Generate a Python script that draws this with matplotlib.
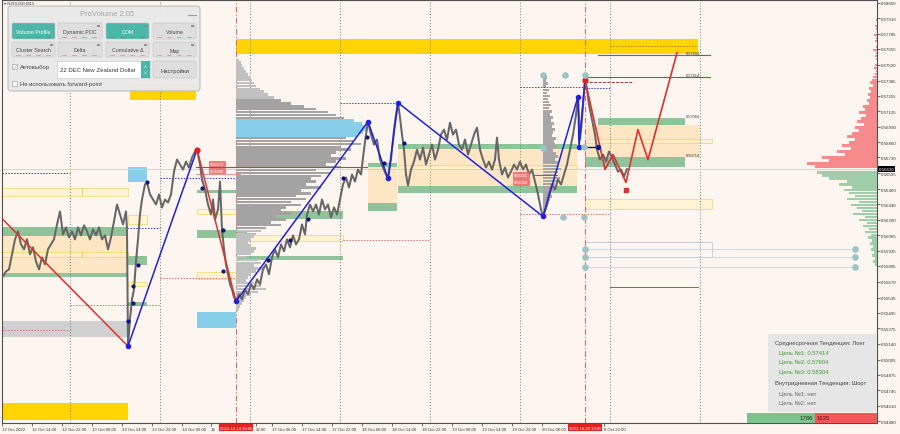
import numpy as np
import matplotlib
matplotlib.use('Agg')
import matplotlib.pyplot as plt
from matplotlib.patches import Rectangle, FancyBboxPatch

plt.rcParams['font.family'] = ['Liberation Sans', 'DejaVu Sans']

# ---------------- data ----------------
bar_x = [3, 6, 9, 12, 15, 18, 21, 24, 27, 30, 33, 36, 39, 42, 45, 48, 51, 54, 57, 60,
         63, 66, 69, 72, 75, 78, 81, 84, 87, 90, 93, 96, 99, 102, 105, 108, 111, 114, 117, 120,
         123, 126, 127, 128,
         130, 132, 134, 136, 138, 140, 142, 145, 147, 150, 153, 156, 159, 162, 165, 168, 171, 174,
         177, 180, 183, 186, 189, 192, 195, 197,
         200, 202, 205, 208, 211, 213, 215, 218, 220, 222, 224, 226, 228, 230, 232, 234, 236,
         239, 242, 245, 248, 251, 254, 257, 260, 263, 266, 269, 272, 275, 278, 281, 284, 287, 290,
         293, 296, 299, 302, 305, 307, 310, 313, 316, 319, 322, 325, 328, 331, 334, 337, 340, 343,
         346, 349, 352, 355, 358, 361, 364, 366, 368,
         371, 374, 377, 380, 383, 386, 388, 391, 394, 396, 398, 400, 402, 404, 406, 408, 411, 414,
         417, 420, 423, 426, 429, 432, 435, 438, 441, 444, 447, 450, 453, 456, 459, 462, 465, 468,
         471, 474, 477, 480, 483, 486, 489, 492, 495, 497, 499, 502, 505, 508, 511, 514, 517, 520,
         523, 526, 529, 532, 535, 538, 541, 543,
         546, 549, 552, 555, 558, 561, 564, 567, 570, 573, 576, 578, 580, 582, 585,
         587, 589, 591, 593, 595, 597, 600, 603, 606, 609, 612, 615, 618, 621, 624, 627]
close = [0.55716, 0.55758, 0.55775, 0.55903, 0.56031, 0.56099, 0.55988, 0.55946, 0.56031, 0.55903,
         0.55963, 0.55843, 0.55775, 0.55877, 0.55818, 0.55946, 0.55988, 0.56031, 0.56158, 0.56269,
         0.56073, 0.56133, 0.56048, 0.56099, 0.56031, 0.56133, 0.56065, 0.56150, 0.56099, 0.56031,
         0.56116, 0.56065, 0.56133, 0.56031, 0.56065, 0.55946, 0.56048, 0.56184, 0.56328, 0.56243,
         0.56158, 0.56269, 0.56116, 0.55120,
         0.55350, 0.55520, 0.55605, 0.55843, 0.56031, 0.56243, 0.56371, 0.56499, 0.56516, 0.56414,
         0.56371, 0.56328, 0.56414, 0.56303, 0.56371, 0.56345, 0.56414, 0.56609, 0.56711, 0.56669,
         0.56626, 0.56694, 0.56643, 0.56728, 0.56780, 0.56796,
         0.56669, 0.56541, 0.56456, 0.56328, 0.56243, 0.56371, 0.56201, 0.56286, 0.56524, 0.56116,
         0.55946, 0.55818, 0.55733, 0.55648, 0.55605, 0.55537, 0.55503,
         0.55563, 0.55520, 0.55605, 0.55563, 0.55648, 0.55605, 0.55690, 0.55648, 0.55775, 0.55818,
         0.55733, 0.55877, 0.55946, 0.55877, 0.55988, 0.55929, 0.56031, 0.55963, 0.56065, 0.55988,
         0.56031, 0.56158, 0.56073, 0.56243, 0.56328, 0.56269, 0.56328, 0.56243, 0.56371, 0.56286,
         0.56328, 0.56218, 0.56303, 0.56243, 0.56371, 0.56499, 0.56558, 0.56473, 0.56584, 0.56524,
         0.56626, 0.56584, 0.56796, 0.56924, 0.57035,
         0.56924, 0.56839, 0.56882, 0.56711, 0.56643, 0.56584, 0.56550, 0.56711, 0.56967, 0.57094,
         0.57196, 0.57069, 0.56924, 0.56796, 0.56584, 0.56490, 0.56626, 0.56694, 0.56796, 0.56711,
         0.56814, 0.56669, 0.56754, 0.56839, 0.56711, 0.56796, 0.56924, 0.56967, 0.56882, 0.57026,
         0.56924, 0.56967, 0.56839, 0.56796, 0.56882, 0.56754, 0.56839, 0.56924, 0.56984, 0.56796,
         0.56711, 0.56643, 0.56694, 0.56626, 0.56711, 0.56899, 0.56711, 0.56584, 0.56643, 0.56558,
         0.56609, 0.56669, 0.56626, 0.56694, 0.56626, 0.56669, 0.56584, 0.56626, 0.56524, 0.56414,
         0.56286, 0.56226,
         0.56303, 0.56414, 0.56499, 0.56456, 0.56541, 0.56499, 0.56584, 0.56669, 0.56796, 0.56924,
         0.57094, 0.57248, 0.56882, 0.57052, 0.57392,
         0.57307, 0.57179, 0.57094, 0.57009, 0.56924, 0.56796, 0.56711, 0.56754, 0.56694, 0.56780,
         0.56728, 0.56669, 0.56609, 0.56626, 0.56567, 0.56630]
last_price = 0.56630

# zigzag
zz_red1_x, zz_red1_y = [0, 128], [0.56226, 0.55120]
zz_blue1_x, zz_blue1_y = [128, 197], [0.55120, 0.56796]
zz_red2_x, zz_red2_y = [197, 236], [0.56796, 0.55503]
zz_blue2_x = [236, 368, 388, 398, 543, 578, 579, 585]
zz_blue2_y = [0.55503, 0.57035, 0.56550, 0.57196, 0.56226, 0.57248, 0.56822, 0.57392]
zz_navy_x, zz_navy_y = [579, 598], [0.56822, 0.56822]
fc_x = [585, 605, 613, 626, 638, 648, 677]
fc_y = [0.57392, 0.56626, 0.56754, 0.56516, 0.56967, 0.56711, 0.57622]
sub_x = [128, 133, 133, 138, 147, 202, 223, 223, 268, 290, 308, 343, 367, 384, 404, 598]
sub_y = [0.55333, 0.55486, 0.55630, 0.55809, 0.56516, 0.56465, 0.56107, 0.55758, 0.55852,
         0.56022, 0.56201, 0.56550, 0.56907, 0.56686, 0.56856, 0.56822]

# zones: (x0, x1, top, bottom)
gold_zones = [(236, 698, 0.57741, 0.57613), (130, 196, 0.57358, 0.57222), (2, 128, 0.54635, 0.54490)]
blue_zones = [(128, 147, 0.56652, 0.56516), (197, 236, 0.55409, 0.55273)]
gray_zones = [(2, 128, 0.55333, 0.55197)]
beige_zones = [(2, 128, 0.56056, 0.55741), (368, 397, 0.56652, 0.56337),
               (398, 577, 0.56805, 0.56482), (587, 700, 0.57009, 0.56737)]
green_zones = [(2, 128, 0.56133, 0.56056), (2, 128, 0.55741, 0.55707), (128, 147, 0.55886, 0.55809),
               (128, 147, 0.55494, 0.55460), (197, 236, 0.56456, 0.56422), (197, 236, 0.56107, 0.56039),
               (237, 343, 0.56269, 0.56201), (237, 343, 0.55886, 0.55852), (368, 397, 0.56686, 0.56652),
               (368, 397, 0.56337, 0.56269), (398, 577, 0.56848, 0.56805), (398, 577, 0.56482, 0.56422),
               (598, 685, 0.57069, 0.57009), (585, 685, 0.56737, 0.56652), (236, 250, 0.56456, 0.56430),
               (236, 247, 0.56107, 0.56056)]
yellow_boxes = [(2, 128, 0.56473, 0.56397), (2, 128, 0.55920, 0.55877), (128, 147, 0.56235, 0.56158),
                (128, 147, 0.55665, 0.55631), (197, 236, 0.56286, 0.56243), (197, 236, 0.55750, 0.55690),
                (237, 343, 0.56065, 0.56014), (398, 577, 0.56669, 0.56635), (585, 712, 0.56890, 0.56856),
                (585, 712, 0.56371, 0.56286)]
pink_dotted = [(2, 70, 0.55256), (70, 160, 0.55469), (160, 236, 0.55699), (343, 430, 0.56022), (520, 610, 0.56243)]
blue_dotted = [(2, 70, 0.56601), (127, 160, 0.56124), (160, 236, 0.56550), (340, 398, 0.57196),
               (520, 583, 0.57333), (585, 610, 0.57324)]
target_lines = [(598, 710, 0.57605, "0.57604"), (585, 710, 0.57418, "0.57414")]
zone_labels = [(0.57069, "0.57084"), (0.56737, "0.56714")]

# volume profile (anchored at bar 236)
vp_widths = [3, 5, 6, 8, 10, 12, 14, 16, 18, 20, 24, 28, 32, 38,
             45, 55, 68, 80, 92, 100, 108,
             118, 126, 131, 130, 127, 121,
             110, 118, 125, 105, 115, 100, 95, 110,
             100, 90, 105, 80, 95, 85, 75,
             80, 70, 85, 65, 75, 60, 70,
             55, 65, 50, 45, 55, 40, 50,
             35, 45, 30, 25, 20, 18, 15,
             12, 15, 20, 18, 14, 10, 22,
             25, 18, 28, 20, 15, 12, 10,
             18, 25, 30, 22, 15, 10, 8,
             6, 4, 3]
vp_top, vp_bottom = 0.57562, 0.55435
vp2_widths = [2, 4, 3, 5, 3, 6, 4, 7, 5, 6, 8, 6, 9, 7, 10, 8, 11, 9, 12, 10, 9, 13, 11, 12, 14, 10,
              13, 15, 12, 16, 14, 18, 15, 13, 17, 14, 12, 10, 11, 8, 9, 7, 6, 5, 4, 3, 2]
vp2_top, vp2_bottom = 0.57435, 0.56243
dom_ask = [1, 0, 2, 1, 0, 3, 1, 2, 0, 1, 4, 1, 2, 1, 0, 2, 3, 1, 2, 4,
           5, 7, 4, 8, 6, 9, 7,
           10, 8, 14, 12, 18, 11, 16, 20, 13, 22,
           18, 25, 30, 22, 28, 35, 26,
           40, 32, 55, 48, 70, 62]
dom_ask_top, dom_ask_bottom = 0.57903, 0.56652
dom_bid = [60, 55, 48, 30, 38, 25, 33, 28, 22, 30, 18, 26, 20, 15, 24, 12, 18, 10, 14, 8,
           12, 6, 9, 5, 7, 4, 6, 3, 5, 2, 4, 2]
dom_bid_top, dom_bid_bottom = 0.56601, 0.55818

yticks = [0.58050, 0.57916, 0.57785, 0.57655, 0.57520, 0.57385, 0.57255, 0.57125, 0.56990, 0.56860,
          0.56730, 0.56595, 0.56460, 0.56330, 0.56200, 0.56065, 0.55935, 0.55805, 0.55670, 0.55535,
          0.55405, 0.55275, 0.55140, 0.55005, 0.54875, 0.54745, 0.54610, 0.54480]
xtick_pos = [2, 32, 62, 92, 122, 152, 182, 211, 256, 272, 302, 332, 362, 392, 422, 452, 482, 512, 542, 604]
xtick_lab = ["12 Oct 2022", "12 Oct 14:00", "12 Oct 22:00", "13 Oct 06:00", "13 Oct 14:00", "13 Oct 22:00",
             "14 Oct 06:00", "14", "22:00", "17 Oct 06:00", "17 Oct 14:00", "17 Oct 22:00",
             "18 Oct 06:00", "18 Oct 14:00", "18 Oct 22:00", "19 Oct 06:00", "19 Oct 14:00", "19 Oct 22:00",
             "20 Oct 06:00", "0 Oct 22:00"]
grid_x = [70, 160, 250, 340, 430, 520, 610, 700]
cursor_x = [236, 585]
cursor_lab = ["2022.10.14 20:05", "2022.10.20 13:05"]
teal_x = [543, 565, 585, 563, 584, 543, 584, 585, 585, 585, 855, 855, 855]
teal_y = [0.57435, 0.57435, 0.57435, 0.56218, 0.56218, 0.56814, 0.56822, 0.55946, 0.55877,
          0.55792, 0.55946, 0.55877, 0.55792]

BG = '#fdf6f0'
fig = plt.figure(figsize=(9, 4.35), dpi=100, facecolor=BG)
ax = fig.add_axes([2 / 900, 11 / 435, 875 / 900, 423 / 435])
ax.set_facecolor(BG)
ax.set_xlim(2, 877)
ax.set_ylim(0.54465, 0.58072)


def rect(z, fc, ec='none', lw=0, zo=1, alpha=1.0):
    x0, x1, top, bot = z
    ax.add_patch(Rectangle((x0, bot), x1 - x0, top - bot, facecolor=fc, edgecolor=ec,
                           lw=lw, zorder=zo, alpha=alpha))


for z in beige_zones:
    rect(z, '#fde6c4', zo=1)
for z in gold_zones:
    rect(z, '#ffd400', zo=1.2)
for z in blue_zones:
    rect(z, '#87ceeb', zo=1.2)
for z in gray_zones:
    rect(z, '#d0d0d0', zo=1.2)
for z in green_zones:
    rect(z, '#8fc49a', zo=1.3)
for z in yellow_boxes:
    rect(z, '#fff4c0', ec='#f0d040', lw=0.7, zo=1.4, alpha=0.6)
ax.plot([82, 82], [0.56473, 0.56397], color='#f0d040', lw=0.7, zorder=1.4)
ax.plot([82, 82], [0.55920, 0.55877], color='#f0d040', lw=0.7, zorder=1.4)
ax.add_patch(Rectangle((585, 0.55877), 127, 0.56005 - 0.55877, facecolor='none',
                       edgecolor='#b8c8d8', lw=0.6, zorder=1.4))

# grid lines
for gx in grid_x:
    ax.axvline(gx, color='#7a7a7a', ls=(0, (1, 2)), lw=0.7, zorder=1.5)
for cx in cursor_x:
    ax.axvline(cx, color='#e06a6a', ls=(0, (5, 2, 1, 2)), lw=0.8, zorder=1.5)
ax.axhline(last_price, color='#cfcfcf', lw=0.6, zorder=1.5)

# volume profiles
n = len(vp_widths)
lv = np.linspace(vp_top, vp_bottom, n)
h = (vp_top - vp_bottom) / (n - 1) * 0.9
cols = ['#87ceeb' if 21 <= i <= 26 else ('#a3a3a3' if 14 <= i <= 58 else '#c0c0c0') for i in range(n)]
ax.barh(lv, vp_widths, left=236, height=h, color=cols, zorder=2)
n2 = len(vp2_widths)
lv2 = np.linspace(vp2_top, vp2_bottom, n2)
ax.barh(lv2, vp2_widths, left=543, height=(vp2_top - vp2_bottom) / (n2 - 1) * 0.9,
        color='#a6a6a6', zorder=2)
na = len(dom_ask)
lva = np.linspace(dom_ask_top, dom_ask_bottom, na)
ax.barh(lva, [-w for w in dom_ask], left=877, height=(dom_ask_top - dom_ask_bottom) / (na - 1) * 0.8,
        color='#f78a8a', zorder=2)
nb = len(dom_bid)
lvb = np.linspace(dom_bid_top, dom_bid_bottom, nb)
ax.barh(lvb, [-w for w in dom_bid], left=877, height=(dom_bid_top - dom_bid_bottom) / (nb - 1) * 0.8,
        color='#9fcfaa', zorder=2)

# horizontal lines
for x0, x1, p in pink_dotted:
    ax.plot([x0, x1], [p, p], color='#e07070', ls=(0, (1.5, 1.5)), lw=0.7, zorder=2.5)
for x0, x1, p in blue_dotted:
    ax.plot([x0, x1], [p, p], color='#3a3ad0', ls=(0, (1.5, 1.5)), lw=0.7, zorder=2.5)
ax.plot([610, 698], [0.55622, 0.55622], color='#e04040', lw=0.7, zorder=2.5)
ax.plot([196, 367], [0.56652, 0.56652], color='#c04040', lw=0.8, zorder=2.5)
ax.plot([196, 240], [0.56590, 0.56590], color='#e08080', lw=0.6, zorder=2.5)
ax.plot([533, 557], [0.56580, 0.56580], color='#d04040', lw=0.7, zorder=2.5)
ax.plot([610, 698], [0.57682, 0.57682], color='#b08000', ls=(0, (1.5, 1.5)), lw=0.7, zorder=2.5)
ax.plot([585, 632], [0.57375, 0.57375], color='#a03030', ls=(0, (3, 1.5)), lw=0.7, zorder=2.5)
for p in [0.55946, 0.55877, 0.55792]:
    ax.plot([585, 855], [p, p], color='#c8d4dc', lw=0.6, zorder=2.5)
for x0, x1, p, lab in target_lines:
    ax.plot([x0, x1], [p, p], color='#3a8a30', lw=0.8, zorder=2.5)
    ax.text(686, p, lab, fontsize=2.8, color='#333333', va='bottom', ha='left', zorder=6)
for p, lab in zone_labels:
    ax.text(686, p, lab, fontsize=2.8, color='#333333', va='bottom', ha='left', zorder=6)

# price
ax.plot(bar_x, close, color='#666666', lw=1.45, zorder=3)

# zigzags
ax.plot(zz_red1_x, zz_red1_y, color='#e03030', lw=1.1, zorder=4)
ax.plot(zz_blue1_x, zz_blue1_y, color='#2020e0', lw=1.1, zorder=4)
ax.plot(zz_red2_x, zz_red2_y, color='#e03030', lw=1.1, zorder=4)
ax.plot(zz_blue2_x, zz_blue2_y, color='#2020e0', lw=1.1, zorder=4)
ax.plot(zz_navy_x, zz_navy_y, color='#101080', lw=1.0, zorder=4)
ax.plot(fc_x, fc_y, color='#e03030', lw=1.2, zorder=4)
ax.scatter([128, 236, 368, 388, 398, 543, 578, 579, 598], [0.55120, 0.55503, 0.57035, 0.56550, 0.57196,
           0.56226, 0.57248, 0.56822, 0.56822], s=9, color='#2020e0', zorder=5)
ax.scatter(sub_x, sub_y, s=4, color='#101080', zorder=5)
ax.scatter([197, 585], [0.56796, 0.57392], s=12, color='#e02020', zorder=5)
ax.scatter([626], [0.56456], s=5, marker='s', color='#e03030', zorder=5)
ax.scatter(teal_x, teal_y, s=14, color='#9cc4c4', zorder=5)

# red price labels
for p, lab in [(0.56677, "0.56672"), (0.56618, "0.56608")]:
    ax.text(210, p, lab, fontsize=2.8, color='white', va='center', ha='left', zorder=6,
            bbox=dict(boxstyle='square,pad=0.15', fc='#f07a7a', ec='#e05050', lw=0.4))
for p, lab in [(0.56580, "0.56381"), (0.56520, "0.56332")]:
    ax.text(514, p, lab, fontsize=2.8, color='white', va='center', ha='left', zorder=6,
            bbox=dict(boxstyle='square,pad=0.15', fc='#f07a7a', ec='#e05050', lw=0.4))

# axes styling
for s in ax.spines.values():
    s.set_color('#505050')
    s.set_linewidth(0.8)
ax.yaxis.tick_right()
ax.set_yticks(yticks)
ax.set_yticklabels([f"{v:.5f}" for v in yticks])
ax.tick_params(axis='y', labelsize=3.2, length=2, pad=1, width=0.5, colors='#333333')
ax.set_xticks(xtick_pos)
ax.set_xticklabels(xtick_lab)
ax.tick_params(axis='x', labelsize=3.1, length=2, pad=1.2, width=0.5, colors='#333333')
for t in ax.get_xticklabels():
    t.set_ha('left')
for cx, lab in zip(cursor_x, cursor_lab):
    ax.text(cx, -0.006, lab, transform=ax.get_xaxis_transform(), fontsize=3.1, color='white',
            ha='center', va='top', zorder=10, clip_on=False,
            bbox=dict(boxstyle='square,pad=0.25', fc='#e8201c', ec='none'))
ax.text(1.002, last_price, f"{last_price:.5f}", transform=ax.get_yaxis_transform(), fontsize=3.2,
        color='white', ha='left', va='center', zorder=10, clip_on=False,
        bbox=dict(boxstyle='square,pad=0.2', fc='black', ec='none'))

# -------------- UI overlay --------------
ui = fig.add_axes([0, 0, 1, 1], zorder=10)
ui.set_xlim(0, 900)
ui.set_ylim(435, 0)
ui.axis('off')
ui.patch.set_alpha(0)

ui.text(4, 4, "▾ NZDUSD,M15", fontsize=3, color='#333333', va='center')
ui.add_patch(FancyBboxPatch((8, 7), 192, 85, boxstyle='round,pad=0,rounding_size=3',
                            fc='#e9e9e9', ec='#b5b5b5', lw=0.7, alpha=0.97))
ui.text(107, 14, "ProVolume 2.05", fontsize=5.5, color='#a5a5a5', ha='center', va='center')
ui.plot([188, 196], [16, 16], color='#a0a0a0', lw=0.8)
buttons = [("Volume Profile", 12, 55, 24, 40, True), ("Dynamic POC", 58, 102, 24, 40, False),
           ("DOM", 106, 149, 24, 40, True), ("Volume", 153, 196, 24, 40, False),
           ("Cluster Search", 12, 55, 43, 58, False), ("Delta", 58, 102, 43, 58, False),
           ("Cumulative Δ", 106, 149, 43, 58, False), ("Map", 153, 196, 43, 58, False)]
for lab, x0, x1, y0, y1, on in buttons:
    ui.add_patch(FancyBboxPatch((x0, y0), x1 - x0, y1 - y0, boxstyle='round,pad=0,rounding_size=1.5',
                                fc='#4cb6aa' if on else '#dedede', ec='#c4c4c4', lw=0.4))
    ui.text((x0 + x1) / 2, (y0 + y1) / 2 + 0.5, lab, fontsize=3.8,
            color='white' if on else '#444444', ha='center', va='center')
    ui.add_patch(Rectangle((x1 - 5, y0 + 1.5), 3, 2.5, fc='#909090', ec='none'))
    for k in range(4):
        ui.plot([x0 + 4 + k * 10, x0 + 8 + k * 10], [y1 - 2, y1 - 2],
                color='#7a7a7a' if on else '#e07070', lw=0.4)
# row 3
ui.add_patch(Rectangle((12, 65), 5, 5, fc='white', ec='#909090', lw=0.4))
ui.text(14.5, 67.5, "✓", fontsize=4, color='#4cb6aa', ha='center', va='center')
ui.text(20, 68, "Автовыбор", fontsize=4.2, color='#444444', va='center')
ui.add_patch(Rectangle((57, 62), 93, 17, fc='white', ec='#c4c4c4', lw=0.4))
ui.text(60, 71, "22 DEC New Zealand Dollar", fontsize=4.3, color='#333333', va='center')
ui.add_patch(Rectangle((141, 62), 9, 17, fc='#4cb6aa', ec='none'))
ui.text(145.5, 68, "˄", fontsize=3.5, color='white', ha='center', va='center')
ui.text(145.5, 74, "˅", fontsize=3.5, color='white', ha='center', va='center')
ui.add_patch(FancyBboxPatch((153, 62), 43, 17, boxstyle='round,pad=0,rounding_size=1.5',
                            fc='#dedede', ec='#c4c4c4', lw=0.4))
ui.text(174.5, 71, "Настройки", fontsize=4.2, color='#444444', ha='center', va='center')
ui.add_patch(Rectangle((12, 82), 5, 5, fc='white', ec='#909090', lw=0.4))
ui.text(20, 84.5, "Не использовать forward-point", fontsize=4.2, color='#444444', va='center')

# info box
ui.add_patch(FancyBboxPatch((768, 335), 109, 78, boxstyle='round,pad=0,rounding_size=2',
                            fc='#e6e6e6', ec='none', alpha=0.95))
info = [("Среднесрочная Тенденция: Лонг", 775, 343.5, '#444444'),
        ("Цель №1: 0.57414", 779, 353, '#3c9a32'),
        ("Цель №2: 0.57604", 779, 362.5, '#3c9a32'),
        ("Цель №3: 0.58304", 779, 372, '#3c9a32'),
        ("Внутридневная Тенденция: Шорт", 775, 384, '#444444'),
        ("Цель №1: нет", 779, 394, '#666666'),
        ("Цель №2: нет", 779, 403.5, '#666666')]
for t, x, y, c in info:
    ui.text(x, y, t, fontsize=4.2, color=c, va='center', ha='left')
ui.add_patch(Rectangle((747, 414), 68, 10, fc='#7cc48e', ec='none'))
ui.add_patch(Rectangle((815, 414), 62, 10, fc='#f25757', ec='none'))
ui.text(813, 419, "1786", fontsize=4.3, color='#1c3a20', ha='right', va='center')
ui.text(817, 419, "1635", fontsize=4.3, color='#5a1010', ha='left', va='center')

fig.savefig('out.png', dpi=100, facecolor=BG)
